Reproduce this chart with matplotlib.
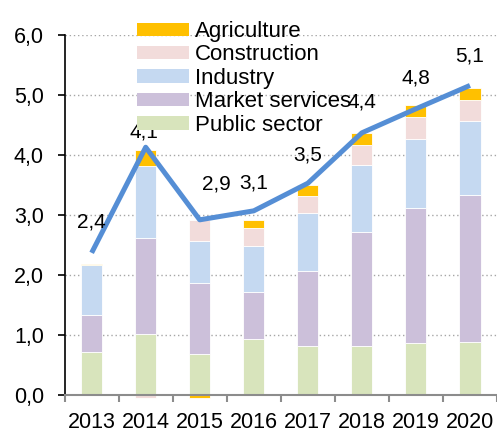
import matplotlib
matplotlib.use("Agg")
import matplotlib.pyplot as plt
import numpy as np
from matplotlib.patches import Patch
from matplotlib.ticker import FixedLocator, FuncFormatter

plt.rcParams["font.family"] = ["Liberation Sans", "DejaVu Sans"]

years = ["2013", "2014", "2015", "2016", "2017", "2018", "2019", "2020"]
public_sector = [0.72, 1.02, 0.68, 0.94, 0.82, 0.82, 0.87, 0.89]
market_services = [0.61, 1.59, 1.19, 0.77, 1.25, 1.90, 2.25, 2.45]
industry = [0.83, 1.21, 0.70, 0.78, 0.97, 1.12, 1.15, 1.22]
construction = [0.00, -0.05, 0.35, 0.30, 0.28, 0.33, 0.36, 0.36]
agriculture = [0.02, 0.27, -0.05, 0.13, 0.18, 0.20, 0.20, 0.20]
total = [2.37, 4.13, 2.92, 3.07, 3.53, 4.37, 4.77, 5.16]
total_labels = ["2,4", "4,1", "2,9", "3,1", "3,5", "4,4", "4,8", "5,1"]

series = [
    ("Public sector", public_sector, "#D8E4BC"),
    ("Market services", market_services, "#CCC0DA"),
    ("Industry", industry, "#C5D9F1"),
    ("Construction", construction, "#F2DCDB"),
    ("Agriculture", agriculture, "#FFC000"),
]

# label offsets in points (layout only)
label_offsets = [(0, 22), (-1, 11), (12, 26), (0, 20), (0, 20), (0, 22), (0, 22), (0, 21)]

fig = plt.figure(figsize=(4.97, 4.32), dpi=100)
ax = fig.add_axes([0.130, 0.0856, 0.870, 0.8333])

x = np.arange(len(years))
pos = np.zeros(len(years))
neg = np.zeros(len(years))
for name, vals, col in series:
    v = np.array(vals)
    bottom = np.where(v >= 0, pos, neg)
    ax.bar(x, v, width=0.39, bottom=bottom, color=col, edgecolor="white",
           linewidth=0.6, zorder=2, clip_on=False)
    pos = pos + np.clip(v, 0, None)
    neg = neg + np.clip(v, None, 0)

ax.plot(x, total, color="#558ED5", lw=3.6, zorder=3, solid_capstyle="butt")
for xi, yi, lab, off in zip(x, total, total_labels, label_offsets):
    ax.annotate(lab, (xi, yi), xytext=off, textcoords="offset points",
                ha="center", va="center", fontsize=15, zorder=4)

ax.set_xlim(-0.5, len(years) - 0.5)
ax.set_ylim(0, 6)
ax.yaxis.set_major_locator(FixedLocator(np.arange(0, 6.01, 1)))
ax.yaxis.set_major_formatter(FuncFormatter(lambda v, p: f"{v:.1f}".replace(".", ",")))
ax.set_xticks(x)
ax.set_xticklabels(years)
ax.xaxis.set_minor_locator(FixedLocator(np.arange(-0.5, len(years), 1)))
ax.tick_params(axis="x", which="major", length=0, pad=12, labelsize=15.5)
ax.tick_params(axis="x", which="minor", length=5, width=1.5, color="#8C8C8C", direction="out")
ax.tick_params(axis="y", length=5, width=1.2, color="black", pad=10, labelsize=15.5)

ax.grid(axis="y", linestyle=(0, (1, 2)), color="#A6A6A6", lw=1.0, zorder=0)
ax.set_axisbelow(True)
for s in ["top", "right"]:
    ax.spines[s].set_visible(False)
ax.spines["left"].set_linewidth(1.2)
ax.spines["bottom"].set_color("#8C8C8C")
ax.spines["bottom"].set_linewidth(1.5)
ax.spines["bottom"].set_zorder(5)

handles = [Patch(facecolor=col, edgecolor="none", label=name) for name, _, col in series[::-1]]
leg = ax.legend(handles=handles, loc="upper left", bbox_to_anchor=(0.167, 1.039),
                frameon=False, fontsize=16, handlelength=2.35, handleheight=0.54,
                handletextpad=0.25, labelspacing=0.11, borderpad=0, borderaxespad=0)
leg.set_zorder(6)

fig.savefig("out.png", dpi=100)
